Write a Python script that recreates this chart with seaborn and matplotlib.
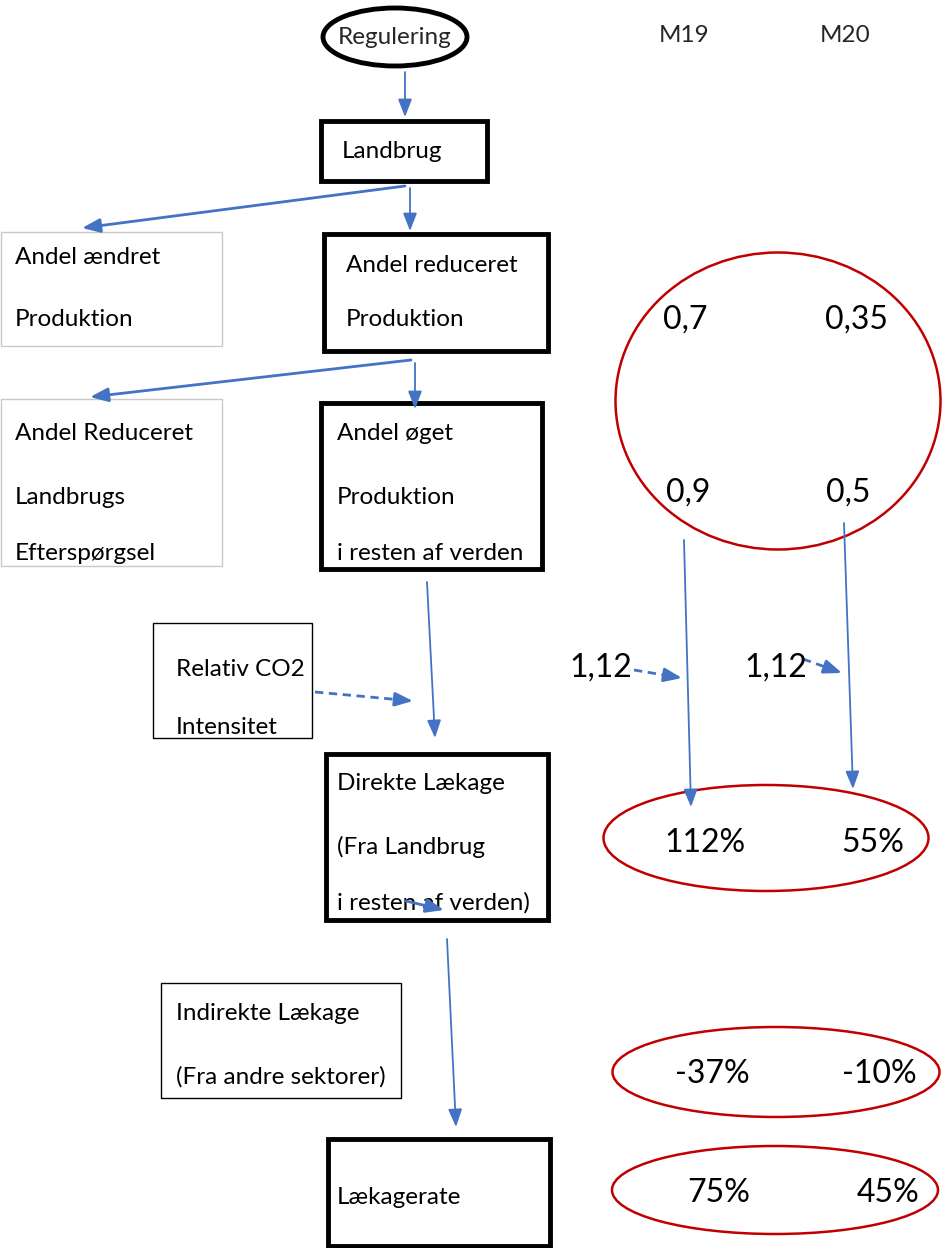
import matplotlib
matplotlib.use("Agg")
import matplotlib.pyplot as plt
from matplotlib.patches import Ellipse, Rectangle
import seaborn as sns

# ---- data ----
scenarios = ["M19", "M20"]
andel_reduceret = [0.7, 0.35]
andel_oget = [0.9, 0.5]
co2_intensitet = [1.12, 1.12]
direkte_laekage = [112, 55]
indirekte_laekage = [-37, -10]
laekagerate = [75, 45]

node_labels = {
    "regulering": ["Regulering"],
    "landbrug": ["Landbrug"],
    "aendret": ["Andel ændret", "Produktion"],
    "reduceret": ["Andel reduceret", "Produktion"],
    "eftersp": ["Andel Reduceret", "Landbrugs", "Efterspørgsel"],
    "oget": ["Andel øget", "Produktion", "i resten af verden"],
    "co2": ["Relativ CO2", "Intensitet"],
    "direkte": ["Direkte Lækage", "(Fra Landbrug", "i resten af verden)"],
    "indirekte": ["Indirekte Lækage", "(Fra andre sektorer)"],
    "rate": ["Lækagerate"],
}

BLUE = "#4472C4"
RED = "#C00000"
LABEL_SIZE = 17.5
NUM_SIZE = 23


def num(v):
    return f"{v:g}".replace(".", ",")


def pct(v):
    return f"{v:d}%"


sns.set_theme(style="white")
plt.rcParams["font.family"] = ["Lato", "DejaVu Sans"]

fig = plt.figure(figsize=(9.42, 12.48), dpi=100)
ax = fig.add_axes([0, 0, 1, 1])
ax.set_xlim(0, 942)
ax.set_ylim(1248, 0)
ax.axis("off")


def box(x0, y0, x1, y1, lw=3.5, ec="black"):
    ax.add_patch(Rectangle((x0, y0), x1 - x0, y1 - y0, fill=False, ec=ec, lw=lw))


def lines(x, ys, key):
    for yy, t in zip(ys, node_labels[key]):
        ax.text(x, yy, t, fontsize=LABEL_SIZE, va="center", ha="left", color="black")


def value(x, y, t):
    ax.text(x, y, t, fontsize=NUM_SIZE, ha="center", va="center", color="black")


def arrow(p0, p1, dashed=False, lw=1.3):
    style = "-|>,head_length=0.9,head_width=0.35"
    if dashed:
        # dashed shaft, solid head
        dx, dy = p1[0] - p0[0], p1[1] - p0[1]
        ln = (dx ** 2 + dy ** 2) ** 0.5
        k = 12.0 / ln
        mid = (p1[0] - dx * k, p1[1] - dy * k)
        ax.plot([p0[0], mid[0]], [p0[1], mid[1]], color=BLUE, lw=lw, ls=(0, (3, 2)))
        p0 = (p1[0] - dx * k * 1.05, p1[1] - dy * k * 1.05)
    ax.annotate("", xy=p1, xytext=p0,
                arrowprops=dict(arrowstyle=style, color=BLUE, lw=lw,
                                mutation_scale=12, shrinkA=0, shrinkB=0))


def ring(cx, cy, w, h):
    ax.add_patch(Ellipse((cx, cy), w, h, fill=False, ec=RED, lw=1.8))


# Regulering ellipse
ax.add_patch(Ellipse((395, 37), 144, 58, fill=False, ec="black", lw=3.5))
ax.text(395, 37, node_labels["regulering"][0], fontsize=LABEL_SIZE, ha="center", va="center")

# column headers
ax.text(684, 36, scenarios[0], fontsize=LABEL_SIZE, ha="center", va="center")
ax.text(845, 36, scenarios[1], fontsize=LABEL_SIZE, ha="center", va="center")

arrow((405, 72), (405, 117))

# Landbrug
box(321, 121, 487, 181)
lines(342, [152], "landbrug")

arrow((405, 186), (82, 228), lw=2)
arrow((410, 188), (410, 231))

box(1, 232, 222, 346, lw=1, ec="#c8c8c8")
lines(15, [257, 320], "aendret")

box(324, 234, 548, 351)
lines(346, [266, 320], "reduceret")

# big red ellipse with first two value rows
ring(778, 401, 325, 297)
value(685, 320, num(andel_reduceret[0]))
value(857, 320, num(andel_reduceret[1]))
value(688, 493, num(andel_oget[0]))
value(848, 493, num(andel_oget[1]))

arrow((411, 360), (90, 397), lw=2)
arrow((415, 363), (415, 409))

box(1, 399, 222, 566, lw=1, ec="#c8c8c8")
lines(15, [433, 497, 553], "eftersp")

box(321, 403, 542, 569)
lines(337, [433, 497, 553], "oget")

arrow((427, 582), (435, 738))

box(153, 623, 312, 738, lw=1)
lines(176, [670, 728], "co2")
arrow((315, 692), (413, 701), dashed=True, lw=2)

# CO2 intensity values
value(601, 668, num(co2_intensitet[0]))
arrow((634, 670), (682, 678), dashed=True, lw=2)
value(776, 668, num(co2_intensitet[1]))
arrow((803, 659), (842, 673), dashed=True, lw=2)

# vertical value arrows
arrow((684, 540), (691, 807))
arrow((844, 523), (853, 789))

box(326, 754, 548, 920)
lines(337, [783, 847, 903], "direkte")
arrow((406, 901), (444, 910), lw=2)

ring(766, 838, 325, 106)
value(705, 843, pct(direkte_laekage[0]))
value(873, 843, pct(direkte_laekage[1]))

arrow((447, 939), (456, 1127))

box(161, 983, 401, 1098, lw=1)
lines(176, [1013, 1077], "indirekte")

ring(776, 1072, 327, 90)
value(712, 1074, pct(indirekte_laekage[0]))
value(879, 1074, pct(indirekte_laekage[1]))

box(328, 1139, 550, 1246)
lines(337, [1197], "rate")

ring(775, 1190, 326, 88)
value(719, 1193, pct(laekagerate[0]))
value(888, 1193, pct(laekagerate[1]))

fig.savefig("out.png", dpi=100, facecolor="white")
